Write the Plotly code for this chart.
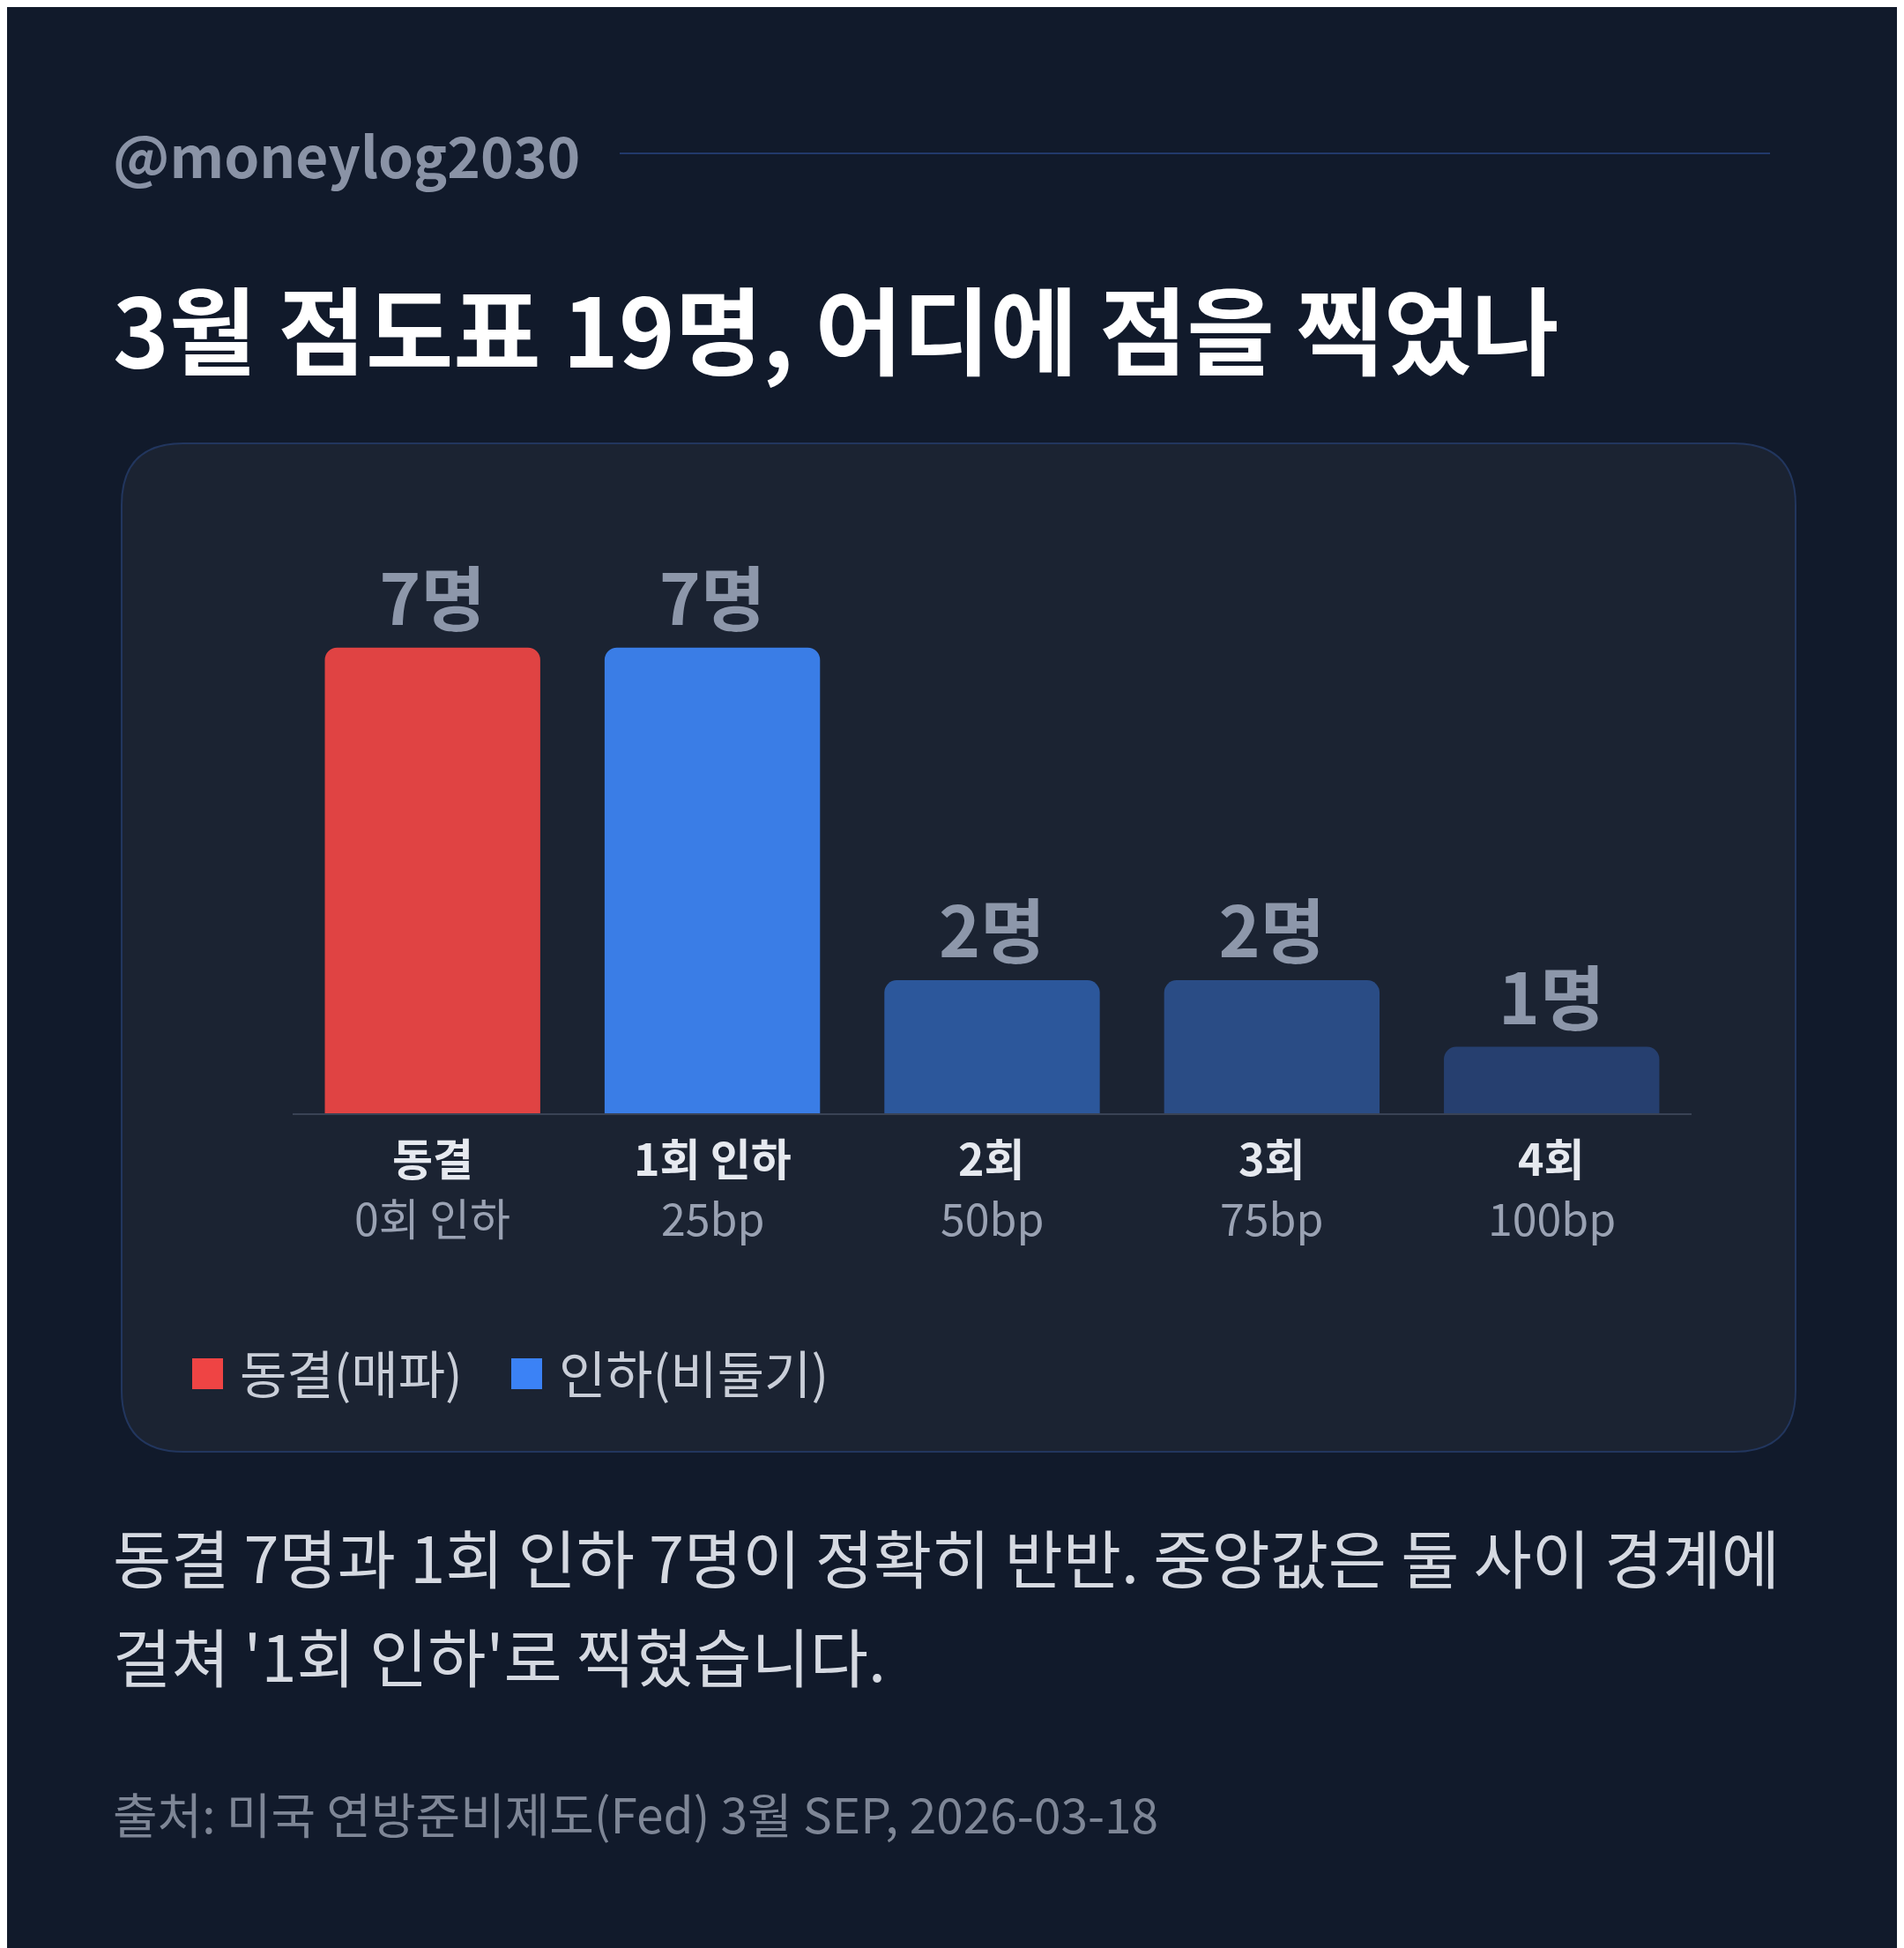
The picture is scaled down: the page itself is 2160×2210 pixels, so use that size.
import plotly.graph_objects as go

W, H = 2160, 2210
FONT = "Noto Sans CJK KR"

cats = ["동결", "1회 인하", "2회", "3회", "4회"]
subs = ["0회 인하", "25bp", "50bp", "75bp", "100bp"]
votes = [7, 7, 2, 2, 1]
colors = ["#e04343", "#3a7de6", "#2c579b", "#2a4c85", "#263f6f"]


def px_x(v):
    return v / W


def px_y(v):
    return 1 - v / H


fig = go.Figure()
fig.add_trace(go.Bar(
    x=cats, y=votes, width=0.77,
    marker=dict(color=colors, cornerradius=14, line=dict(width=0)),
    text=[f"{v}명" for v in votes], textposition="outside",
    textfont=dict(family=FONT, size=80, color="#8d97aa", weight="bold"),
    cliponaxis=False, hoverinfo="skip",
))

# card with rounded corners
x0, x1, y0, y1 = px_x(130), px_x(2029), px_y(1639), px_y(495)
rx, ry = 70 / W, 70 / H
card = (f"M {x0+rx},{y0} L {x1-rx},{y0} Q {x1},{y0} {x1},{y0+ry} "
        f"L {x1},{y1-ry} Q {x1},{y1} {x1-rx},{y1} L {x0+rx},{y1} "
        f"Q {x0},{y1} {x0},{y1-ry} L {x0},{y0+ry} Q {x0},{y0} {x0+rx},{y0} Z")
shapes = [
    dict(type="path", path=card, xref="paper", yref="paper",
         fillcolor="#1b2332", line=dict(color="#22365e", width=2), layer="below"),
    dict(type="line", xref="paper", yref="paper", x0=px_x(695), x1=px_x(2000),
         y0=px_y(166), y1=px_y(166), line=dict(color="#22396b", width=2)),
    dict(type="rect", xref="paper", yref="paper", x0=px_x(210), x1=px_x(245),
         y0=px_y(1568), y1=px_y(1533), fillcolor="#ef4444", line=dict(width=0)),
    dict(type="rect", xref="paper", yref="paper", x0=px_x(572), x1=px_x(607),
         y0=px_y(1568), y1=px_y(1533), fillcolor="#3b82f6", line=dict(width=0)),
]

ann = [
    dict(text="@moneylog2030", x=px_x(118), y=px_y(166), xanchor="left", yanchor="middle",
         font=dict(size=64, color="#8a93a6", weight="bold")),
    dict(text="3월 점도표 19명, 어디에 점을 찍었나", x=px_x(118), y=px_y(362),
         xanchor="left", yanchor="middle", font=dict(size=108, color="#ffffff", weight="bold")),
    dict(text="동결(매파)", x=px_x(262), y=px_y(1548), xanchor="left", yanchor="middle",
         font=dict(size=58, color="#c9ced8")),
    dict(text="인하(비둘기)", x=px_x(624), y=px_y(1548), xanchor="left", yanchor="middle",
         font=dict(size=58, color="#c9ced8")),
    dict(text="동결 7명과 1회 인하 7명이 정확히 반반. 중앙값은 둘 사이 경계에", x=px_x(118),
         y=px_y(1756), xanchor="left", yanchor="middle", font=dict(size=72, color="#d5d9e1")),
    dict(text="걸쳐 '1회 인하'로 찍혔습니다.", x=px_x(118), y=px_y(1868),
         xanchor="left", yanchor="middle", font=dict(size=72, color="#d5d9e1")),
    dict(text="출처: 미국 연방준비제도(Fed) 3월 SEP, 2026-03-18", x=px_x(118), y=px_y(2048),
         xanchor="left", yanchor="middle", font=dict(size=55, color="#7e8696")),
]
for c, s in zip(cats, subs):
    ann.append(dict(text=c, x=c, xref="x", y=px_y(1304), yanchor="middle", showarrow=False,
                    font=dict(size=50, color="#e6e9ef", weight="bold")))
    ann.append(dict(text=s, x=c, xref="x", y=px_y(1372), yanchor="middle", showarrow=False,
                    font=dict(size=50, color="#9aa2b3")))
for a in ann:
    a.setdefault("xref", "paper")
    a["yref"] = "paper"
    a["showarrow"] = False
    a["font"]["family"] = FONT

fig.update_layout(
    width=W, height=H, margin=dict(l=0, r=0, t=0, b=0),
    paper_bgcolor="#111a2b", plot_bgcolor="rgba(0,0,0,0)",
    font=dict(family=FONT), showlegend=False, bargap=0.23,
    shapes=shapes, annotations=ann,
    xaxis=dict(domain=[0.15, 0.8847], showticklabels=False, showline=True,
               linecolor="#3a4355", linewidth=2, showgrid=False, zeroline=False),
    yaxis=dict(domain=[0.4321, 0.7122], range=[0, 8.2], visible=False),
)
fig.write_html("out.html")
